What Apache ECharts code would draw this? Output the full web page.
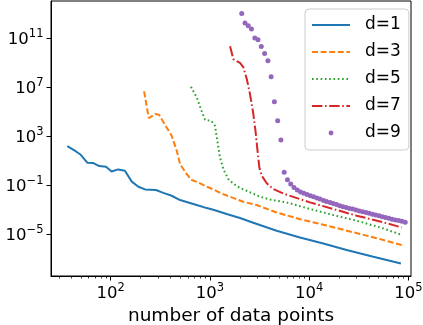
<!DOCTYPE html>
<html>
<head>
<meta charset="utf-8">
<script src="https://cdn.jsdelivr.net/npm/echarts@6/dist/echarts.min.js"></script>
<style>
html, body { margin: 0; padding: 0; background: #fff; }
#chart { width: 423px; height: 325px; }
</style>
</head>
<body>
<div id="chart"></div>
<script>
// values (log-log plot)
var d1X = [36.5, 44.7, 49.9, 58, 66.8, 76.7, 89.7, 102, 119, 139, 163, 190, 222, 286, 339, 412, 500, 630, 764, 929, 1082, 1475, 2010, 2735, 4710, 8090, 13900, 23900, 44400, 84300];
var d1Y = [155, 56, 30, 6.7, 6.3, 3.6, 3.1, 1.3, 1.9, 1.5, 0.19, 0.073, 0.044, 0.039, 0.023, 0.0133, 0.0059, 0.0034, 0.0021, 0.0013, 0.00096, 0.00043, 0.0002, 8.2e-5, 1.8e-5, 5.1e-6, 1.66e-6, 4.8e-7, 1.35e-7, 3.8e-8];

var d3X = [217, 242, 280, 307, 353, 412, 463, 500, 583, 656, 764, 929, 1082, 1315, 1660, 2170, 2960, 4710, 8090, 13900, 25800, 48000, 85700];
var d3Y = [4.6e6, 3.0e4, 6.4e4, 5.6e4, 8.5e3, 1070, 65, 5.2, 0.8, 0.26, 0.16, 0.073, 0.044, 0.020, 0.0097, 0.0043, 0.0023, 5.7e-4, 1.6e-4, 5.7e-5, 1.6e-5, 4.5e-6, 1.23e-6];

var d5X = [644, 736, 823, 893, 1042, 1125, 1188, 1265, 1366, 1532, 1720, 2010, 2350, 3200, 4040, 5940, 10200, 17500, 30200, 51900, 85700];
var d5Y = [1.1e7, 1.5e6, 1.2e5, 2.2e4, 1.7e4, 7e3, 430, 18, 2.0, 0.31, 0.13, 0.057, 0.034, 0.011, 0.0066, 0.0038, 0.0011, 3.5e-4, 1.2e-4, 3.4e-5, 8.5e-6];

var d7X = [1596, 1722, 2010, 2170, 2350, 2535, 2740, 2880, 3020, 3150, 3330, 3740, 4360, 5710, 10200, 17500, 30200, 51900, 85700];
var d7Y = [2.3e10, 2.0e9, 1.0e9, 4.4e8, 5e7, 2.8e6, 6.8e4, 2800, 65, 2.8, 0.58, 0.14, 0.047, 0.018, 0.0038, 0.0011, 3.1e-4, 1.05e-4, 3.4e-5];

var d9X = [2094, 2259, 2434, 2625, 2835, 3057, 3296, 3558, 3843, 4140, 4467, 4820, 5200, 5610, 6050, 6530, 7040, 7600, 8200, 8850,
           9550, 10300, 11100, 12000, 12900, 14000, 15000, 16300, 17500, 18900, 20400, 22000, 23700, 25600, 27600, 29800, 32100, 34700,
           37500, 40400, 43600, 47000, 50800, 54700, 59000, 63700, 68700, 74100, 80000, 86300, 93100];
var d9Y = [1.1e13, 1.8e12, 1.1e12, 5.9e11, 1.07e11, 7.8e10, 2.2e10, 5.9e9, 1.5e9, 7.2e7, 6.6e5, 1.8e4, 480, 1.1, 0.27, 0.12, 0.063, 0.039, 0.027, 0.021,
           0.017, 0.0133, 0.011, 0.0087, 0.0071, 0.0054, 0.0045, 0.0037, 0.0031, 0.0025, 0.0020, 0.0017, 0.00144, 0.00123, 0.00107, 0.00089, 0.00076, 0.00065,
           0.00056, 0.00048, 0.00040, 0.00035, 0.00030, 0.00026, 0.00022, 0.00019, 0.00016, 0.00014, 0.000124, 0.000107, 0.000092];

var xMajor = [100, 1000, 10000, 100000];
var xMinor = [30, 40, 50, 60, 70, 80, 90, 200, 300, 400, 500, 600, 700, 800, 900,
              2000, 3000, 4000, 5000, 6000, 7000, 8000, 9000, 20000, 30000, 40000, 50000, 60000, 70000, 80000, 90000];
var yMajor = [1e-5, 1e-1, 1e3, 1e7, 1e11];

var FONT = 'DejaVu Sans';

function pairs(xs, ys) {
    var res = [];
    for (var i = 0; i < xs.length; i++) res.push([xs[i], ys[i]]);
    return res;
}

function powLabel(v) {
    var e = Math.round(Math.log10(v));
    var s = String(e).replace('-', '\u2212');
    return '{b|10}{e|' + s + '}';
}

var richPow = {
    b: { fontFamily: FONT, fontSize: 16.5, color: '#000', lineHeight: 20, verticalAlign: 'bottom' },
    e: { fontFamily: FONT, fontSize: 11.5, color: '#000', lineHeight: 12, verticalAlign: 'top' }
};

var chart = echarts.init(document.getElementById('chart'));

var option = {
    animation: false,
    grid: {
        left: 51, right: 12, top: 1, bottom: 49,
        outerBoundsMode: 'none', containLabel: false,
        show: true, borderColor: '#000', borderWidth: 1, backgroundColor: 'transparent'
    },
    legend: {
        orient: 'vertical',
        left: 305, top: 9,
        padding: [7, 8, 8, 6],
        itemWidth: 38, itemHeight: 6, itemGap: 9,
        backgroundColor: 'rgba(255,255,255,0.8)',
        borderColor: '#cccccc', borderWidth: 1, borderRadius: 4,
        textStyle: { fontFamily: FONT, fontSize: 17, color: '#000', lineHeight: 18, padding: [0, 0, 0, 10] },
        data: [
            { name: 'd=1', itemStyle: { opacity: 0 }, lineStyle: { width: 2, type: 'solid' } },
            { name: 'd=3', itemStyle: { opacity: 0 }, lineStyle: { width: 2, type: [6, 2.6] } },
            { name: 'd=5', itemStyle: { opacity: 0 }, lineStyle: { width: 2, type: [1.6, 2.7] } },
            { name: 'd=7', itemStyle: { opacity: 0 }, lineStyle: { width: 2, type: [10.4, 2.6, 1.6, 2.6] } },
            { name: 'd=9', lineStyle: { width: 0, opacity: 0 } }
        ]
    },
    xAxis: [{
        type: 'log', logBase: 10, min: 25, max: 106500,
        position: 'bottom',
        name: 'number of data points', nameLocation: 'middle', nameGap: 27,
        nameTextStyle: { fontFamily: FONT, fontSize: 18.5, color: '#000' },
        axisLine: { show: true, lineStyle: { color: '#000', width: 1 } },
        axisTick: { show: true, length: 4.5, customValues: xMajor, lineStyle: { color: '#000', width: 1 } },
        axisLabel: { customValues: xMajor, margin: 6, formatter: powLabel, rich: richPow },
        splitLine: { show: false }
    }, {
        type: 'log', logBase: 10, min: 25, max: 106500,
        position: 'bottom',
        axisLine: { show: false },
        axisTick: { show: true, length: 2.5, customValues: xMinor, lineStyle: { color: '#000', width: 0.8 } },
        axisLabel: { show: false },
        splitLine: { show: false }
    }],
    yAxis: {
        type: 'log', logBase: 10, min: 3.6e-9, max: 1.15e14,
        axisLine: { show: true, lineStyle: { color: '#000', width: 1 } },
        axisTick: { show: true, length: 4.5, customValues: yMajor, lineStyle: { color: '#000', width: 1 } },
        axisLabel: { customValues: yMajor, margin: 7.5, formatter: powLabel, rich: richPow },
        splitLine: { show: false }
    },
    series: [
        { name: 'd=1', type: 'line', symbol: 'none', data: pairs(d1X, d1Y),
          lineStyle: { color: '#1f77b4', width: 2 }, itemStyle: { color: '#1f77b4' } },
        { name: 'd=3', type: 'line', symbol: 'none', data: pairs(d3X, d3Y),
          lineStyle: { color: '#ff7f0e', width: 2, type: [6, 2.6] }, itemStyle: { color: '#ff7f0e' } },
        { name: 'd=5', type: 'line', symbol: 'none', data: pairs(d5X, d5Y),
          lineStyle: { color: '#2ca02c', width: 2, type: [1.6, 2.7] }, itemStyle: { color: '#2ca02c' } },
        { name: 'd=7', type: 'line', symbol: 'none', data: pairs(d7X, d7Y),
          lineStyle: { color: '#d62728', width: 2, type: [10.4, 2.6, 1.6, 2.6] }, itemStyle: { color: '#d62728' } },
        { name: 'd=9', type: 'line', symbol: 'circle', symbolSize: 5, showAllSymbol: true, data: pairs(d9X, d9Y),
          lineStyle: { width: 0, opacity: 0 }, itemStyle: { color: '#9467bd' } }
    ]
};

chart.setOption(option);
</script>
</body>
</html>
